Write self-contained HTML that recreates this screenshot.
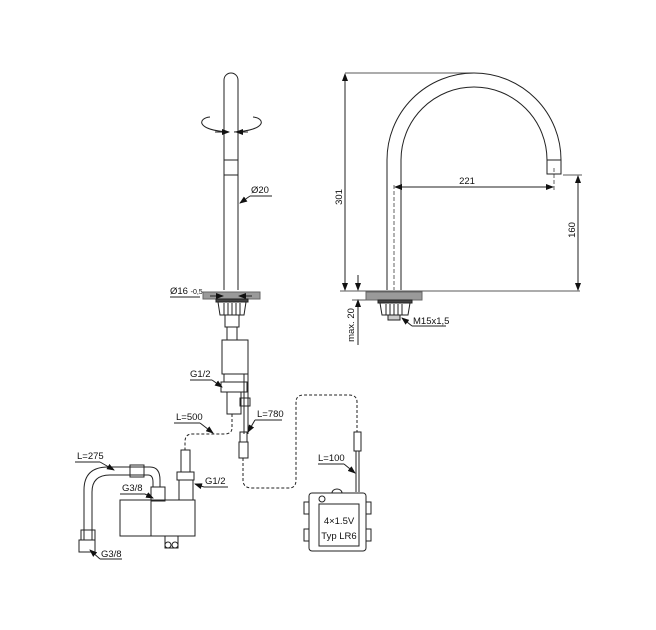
<!DOCTYPE html>
<html><head><meta charset="utf-8"><style>
html,body{margin:0;padding:0;background:#fff;}
svg{display:block;}
text{font-family:"Liberation Sans",sans-serif;font-size:9.5px;fill:#111;}
</style></head><body>
<svg width="656" height="630" viewBox="0 0 656 630" xmlns="http://www.w3.org/2000/svg">
<defs>
<marker id="ar" markerWidth="8" markerHeight="6" refX="7" refY="3" orient="auto" markerUnits="userSpaceOnUse"><path d="M0,0 L8,3 L0,6 z" fill="#111"/></marker>
</defs>
<g fill="none" stroke="#222" stroke-width="1">
<!-- LEFT SPOUT -->
<path d="M224,290 L224,80 A7,7 0 0 1 238,80 L238,290"/>
<line x1="224" y1="160" x2="238" y2="160"/><line x1="224" y1="175" x2="238" y2="175"/>
<path d="M229,132 C195,130 198,118 210,117" />
<path d="M234,132 C268,130 265,118 253,117" />
<path d="M215,132 L229,132" marker-end="url(#ar)"/>
<path d="M248,132 L236,132" marker-end="url(#ar)"/>
<line x1="272" y1="196" x2="250" y2="196"/><line x1="250" y1="196" x2="240" y2="203" marker-end="url(#ar)"/>
<rect x="203" y="292" width="57" height="7" fill="#9a9a9a" stroke="#666"/>
<line x1="170" y1="297" x2="200" y2="297"/>
<line x1="210" y1="296" x2="223" y2="296" marker-end="url(#ar)"/>
<line x1="252" y1="296" x2="239" y2="296" marker-end="url(#ar)"/>
<rect x="216" y="299" width="32" height="3" fill="#444"/>
<path d="M218,302 L246,302 L244,315 L220,315 Z"/>
<line x1="224" y1="303" x2="224" y2="315"/><line x1="228" y1="303" x2="228" y2="315"/><line x1="232" y1="303" x2="232" y2="315"/><line x1="236" y1="303" x2="236" y2="315"/><line x1="240" y1="303" x2="240" y2="315"/>
<rect x="225" y="315" width="14" height="12"/><rect x="227" y="327" width="10" height="13"/>
<rect x="222" y="340" width="26" height="34"/>
<rect x="224" y="374" width="20" height="8"/>
<rect x="221" y="382" width="26" height="10"/>
<rect x="227" y="392" width="14" height="22"/>
<line x1="190" y1="380" x2="212" y2="380"/><line x1="212" y1="380" x2="222" y2="387" marker-end="url(#ar)"/>
<!-- sensor cable -->
<line x1="248" y1="372" x2="248" y2="434"/><line x1="244" y1="380" x2="244" y2="434"/>
<rect x="240" y="398" width="10" height="8"/>
<rect x="240" y="432" width="7" height="10"/><rect x="239" y="442" width="9" height="16"/>
<line x1="255" y1="420" x2="282" y2="420"/><line x1="255" y1="420" x2="248" y2="432" marker-end="url(#ar)"/>
<path d="M243,458 L243,480 Q243,488 252,488 L289,488 Q296,488 296,480 L296,402 Q296,395 304,395 L349,395 Q357,395 357,402 L357,432" stroke-dasharray="3,2"/>
<rect x="354" y="432" width="7" height="19"/>
<line x1="356" y1="451" x2="356" y2="492"/><line x1="359" y1="451" x2="359" y2="492"/>
<line x1="318" y1="464" x2="344" y2="464"/><line x1="344" y1="464" x2="355" y2="473" marker-end="url(#ar)"/>
<!-- battery box -->
<rect x="309" y="493" width="57" height="58" rx="3"/>
<rect x="319" y="504" width="40" height="42"/>
<path d="M332,493 a5,4 0 0 1 10,0"/>
<circle cx="322" cy="499" r="3"/>
<rect x="304" y="502" width="5" height="12"/><rect x="304" y="529" width="5" height="12"/>
<rect x="366" y="502" width="5" height="12"/><rect x="366" y="529" width="5" height="12"/>
<!-- L=500 cable -->
<path d="M232,414 L232,428 Q232,434 224,434 L192,434 Q185,434 185,442 L185,450" stroke-dasharray="3,2"/>
<line x1="174" y1="423" x2="200" y2="423"/><line x1="200" y1="423" x2="213" y2="433" marker-end="url(#ar)"/>
<!-- inlet fitting -->
<rect x="181" y="450" width="9" height="22"/>
<rect x="177" y="472" width="17" height="8"/>
<rect x="179" y="480" width="14" height="20"/>
<line x1="204" y1="487" x2="228" y2="487"/><line x1="204" y1="487" x2="195" y2="484" marker-end="url(#ar)"/>
<!-- valve -->
<rect x="120" y="500" width="75" height="36"/>
<line x1="151" y1="500" x2="151" y2="536"/>
<rect x="165" y="536" width="13" height="12"/>
<circle cx="168" cy="545" r="3"/><circle cx="175" cy="545" r="3"/>
<!-- hose -->
<path d="M84,540 L84,490 Q84,467 108,467 L150,467 Q160,467 160,480 L160,487"/>
<path d="M92,540 L92,492 Q92,475 110,475 L148,475 Q153,475 153,482 L153,487"/>
<rect x="130" y="465" width="14" height="12"/>
<rect x="151" y="487" width="14" height="14"/>
<rect x="81" y="530" width="14" height="10"/>
<rect x="79" y="540" width="16" height="12"/>
<line x1="75" y1="462" x2="100" y2="462"/><line x1="100" y1="462" x2="114" y2="470" marker-end="url(#ar)"/>
<line x1="120" y1="494" x2="145" y2="494"/><line x1="145" y1="494" x2="153" y2="498" marker-end="url(#ar)"/>
<line x1="100" y1="559" x2="122" y2="559"/><line x1="100" y1="559" x2="90" y2="550" marker-end="url(#ar)"/>
<!-- RIGHT SPOUT -->
<path d="M387,290 L387,160 A87,87 0 0 1 561,160 L561,174 L547,174 L547,160 A73,73 0 0 0 401,160 L401,290"/>
<line x1="547" y1="160" x2="561" y2="160"/>
<line x1="394" y1="185" x2="394" y2="290" stroke-dasharray="4,2" stroke-width="0.7"/>
<line x1="554" y1="168" x2="554" y2="192" stroke-dasharray="4,2" stroke-width="0.7"/>
<line x1="480" y1="187" x2="395" y2="187" marker-end="url(#ar)"/>
<line x1="480" y1="187" x2="553" y2="187" marker-end="url(#ar)"/>
<line x1="345" y1="73" x2="474" y2="73" stroke-width="0.7"/>
<line x1="340" y1="291" x2="580" y2="291" stroke-width="0.7"/>
<line x1="563" y1="175" x2="582" y2="175" stroke-width="0.7"/>
<line x1="345" y1="180" x2="345" y2="74" marker-end="url(#ar)"/>
<line x1="345" y1="180" x2="345" y2="290" marker-end="url(#ar)"/>
<line x1="578" y1="230" x2="578" y2="176" marker-end="url(#ar)"/>
<line x1="578" y1="230" x2="578" y2="290" marker-end="url(#ar)"/>
<line x1="358" y1="275" x2="358" y2="290" marker-end="url(#ar)"/>
<line x1="358" y1="345" x2="358" y2="300" marker-end="url(#ar)"/>
<line x1="352" y1="300" x2="370" y2="300" stroke-width="0.7"/>
<rect x="366" y="292" width="56" height="8" fill="#9a9a9a" stroke="#666"/>
<rect x="378" y="300" width="34" height="3" fill="#444"/>
<path d="M380,303 L410,303 L408,315 L382,315 Z"/>
<line x1="386" y1="304" x2="386" y2="315"/><line x1="390" y1="304" x2="390" y2="315"/><line x1="394" y1="304" x2="394" y2="315"/><line x1="398" y1="304" x2="398" y2="315"/><line x1="402" y1="304" x2="402" y2="315"/>
<rect x="388" y="315" width="12" height="5" fill="#ccc"/>
<line x1="412" y1="326" x2="446" y2="326"/><line x1="412" y1="326" x2="402" y2="318" marker-end="url(#ar)"/>
</g>
<text x="251" y="193">Ø20</text>
<text x="170" y="294">Ø16 <tspan font-size="7">-0,5</tspan></text>
<text x="190" y="377">G1/2</text>
<text x="176" y="420">L=500</text>
<text x="257" y="417">L=780</text>
<text x="318" y="461">L=100</text>
<text x="77" y="459">L=275</text>
<text x="122" y="491">G3/8</text>
<text x="205" y="484">G1/2</text>
<text x="101" y="557">G3/8</text>
<text x="339" y="524" text-anchor="middle" font-size="9">4×1.5V</text>
<text x="339" y="539" text-anchor="middle" font-size="9">Typ LR6</text>
<text x="467" y="184" text-anchor="middle">221</text>
<text x="413" y="324">M15x1,5</text>
<text transform="translate(342,197) rotate(-90)" text-anchor="middle">301</text>
<text transform="translate(575,230) rotate(-90)" text-anchor="middle">160</text>
<text transform="translate(354,325) rotate(-90)" text-anchor="middle">max. 20</text>
</svg>
</body></html>
